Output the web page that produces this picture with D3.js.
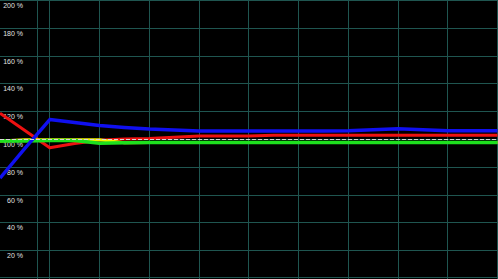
<!DOCTYPE html>
<html>
<head>
<meta charset="utf-8">
<script src="https://d3js.org/d3.v7.min.js"></script>
<style>
  html, body { margin: 0; padding: 0; background: #000; }
  svg { display: block; }
  .lbl { font-family: "Liberation Sans", Arial, sans-serif; font-size: 7px; fill: #e2e2e2; }
</style>
</head>
<body>
<svg width="498" height="279"></svg>
<script>
// samples along the time axis (0..20)
var samples = d3.range(0, 21);
// percent ticks on the left
var pctTicks = [20, 40, 60, 80, 100, 120, 140, 160, 180, 200];
var vGridTicks = [2, 4, 6, 8, 10, 12, 14, 16, 18, 20];
var startMarker = 1.49;
var baseline = 100;

var redVals    = [118.5, 106.1, 93.7, 96.8, 99.1, 100.0, 100.4, 101.2, 102.2, 102.2, 102.2, 102.7, 102.7, 102.7, 102.7, 102.7, 102.7, 102.7, 102.7, 102.7, 102.7];
var yellowVals = [98.6, 99.4, 99.4, 99.4, 99.4, 97.3, 97.5, 97.5, 97.5, 97.5, 97.5, 97.5, 97.5, 97.5, 97.5, 97.5, 97.5, 97.5, 97.5, 97.5, 97.5];
var greenVals  = [98.6, 98.6, 98.9, 98.9, 96.9, 97.3, 97.5, 97.5, 97.5, 97.5, 97.5, 97.5, 97.5, 97.5, 97.5, 97.5, 97.5, 97.5, 97.5, 97.5, 97.5];
var blueVals   = [71.9, 93.2, 114.0, 111.9, 109.7, 108.3, 107.2, 106.5, 105.8, 105.8, 105.8, 105.8, 105.8, 105.8, 105.9, 106.7, 107.4, 106.7, 105.9, 105.9, 105.9];

var svg = d3.select("svg"),
    width = +svg.attr("width"),
    height = +svg.attr("height");

svg.append("rect")
    .attr("width", width)
    .attr("height", height)
    .attr("fill", "#000");

var x = d3.scaleLinear().domain([0, 20]).range([0, 497.5]);
var y = d3.scaleLinear().domain([0, 200]).range([278, 0]);

var gridColor = "#1f5550";

// horizontal grid
svg.append("g").selectAll("line")
    .data(pctTicks)
    .enter()
    .append("line")
    .attr("x1", 0)
    .attr("x2", width)
    .attr("y1", function (d) {return Math.round(y(d)) + 0.5;})
    .attr("y2", function (d) {return Math.round(y(d)) + 0.5;})
    .attr("stroke", gridColor)
    .attr("stroke-width", 1);

svg.append("line")
    .attr("x1", 0).attr("x2", width)
    .attr("y1", y(0) - 0.5).attr("y2", y(0) - 0.5)
    .attr("stroke", gridColor);

// vertical grid
svg.append("g").selectAll("line")
    .data(vGridTicks.concat([startMarker]))
    .enter()
    .append("line")
    .attr("x1", function (d) {return Math.floor(x(d)) + 0.5;})
    .attr("x2", function (d) {return Math.floor(x(d)) + 0.5;})
    .attr("y1", 0)
    .attr("y2", height)
    .attr("stroke", gridColor)
    .attr("stroke-width", 1);

// percent labels
svg.append("g").selectAll("text")
    .data(pctTicks)
    .enter()
    .append("text")
    .attr("class", "lbl")
    .attr("x", 23)
    .attr("y", function (d) {return y(d) + 8;})
    .attr("text-anchor", "end")
    .text(function (d) {return d + " %";});

var line = d3.line()
    .x(function (d) {return x(d[0]);})
    .y(function (d) {return y(d[1]);});

var series = [
    {name: "red", vals: redVals, color: "#ee1111", w: 3},
    {name: "yellow", vals: yellowVals, color: "#f4f400", w: 3},
    {name: "green", vals: greenVals, color: "#1ee01e", w: 3.6},
    {name: "blue", vals: blueVals, color: "#1010f0", w: 3.4}
];

series.forEach(function (s) {
    svg.append("path")
        .datum(samples.map(function (t, i) {return [t, s.vals[i]];}))
        .attr("d", line)
        .attr("fill", "none")
        .attr("stroke", s.color)
        .attr("stroke-width", s.w)
        .attr("stroke-linejoin", "round");
});

// 100 % reference line
svg.append("line")
    .attr("x1", 0)
    .attr("x2", width)
    .attr("y1", Math.round(y(baseline)) + 0.5)
    .attr("y2", Math.round(y(baseline)) + 0.5)
    .attr("stroke", "#d8d8d8")
    .attr("stroke-width", 1)
    .attr("stroke-dasharray", "4,2");
</script>
</body>
</html>
